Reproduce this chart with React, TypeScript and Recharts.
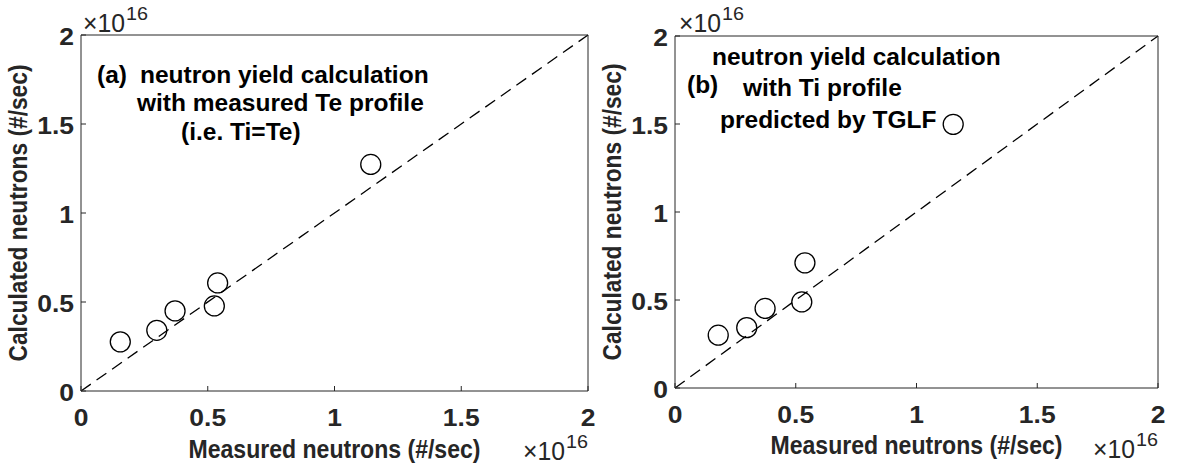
import React from "react";
import {
  ScatterChart,
  Scatter,
  XAxis,
  YAxis,
  ReferenceLine,
} from "recharts";

// values in units of 1e16 neutrons/sec
const measuredA = [0.155, 0.299, 0.371, 0.526, 0.539, 1.143];
const calculatedA = [0.276, 0.341, 0.45, 0.478, 0.607, 1.273];
const measuredB = [0.179, 0.297, 0.373, 0.525, 0.538, 1.152];
const calculatedB = [0.3, 0.343, 0.452, 0.489, 0.711, 1.498];
const tickValues = [0, 0.5, 1, 1.5, 2];
const axisDomain: [number, number] = [0, 2];
const xTitle = "Measured neutrons (#/sec)";
const yTitle = "Calculated neutrons (#/sec)";
const notesA = ["(a)", "neutron yield calculation", "with measured Te profile", "(i.e. Ti=Te)"];
const notesB = ["(b)", "neutron yield calculation", "with Ti profile", "predicted by TGLF"];

const FONT = '"Liberation Sans", Arial, Helvetica, sans-serif';
const AXIS = "#262626";
const TICK = 5;

const toPoints = (xs: number[], ys: number[]) => xs.map((x, i) => ({ x, y: ys[i] }));

// MATLAB's digits are a bit wider than Liberation's, so stretch them slightly
const TickLabel = ({ x, y, anchor, value }: { x: number; y: number; anchor: string; value: number }) => (
  <text
    transform={`translate(${x} ${y}) scale(1.15 1)`}
    textAnchor={anchor}
    fontFamily={FONT}
    fontWeight="bold"
    fontSize={23}
    fill={AXIS}
  >
    {String(value)}
  </text>
);

const BottomTick = (props: any) => {
  const { x, y, payload } = props;
  return (
    <g>
      <line x1={x} y1={y} x2={x} y2={y - TICK} stroke={AXIS} />
      <TickLabel x={x} y={y + 35} anchor="middle" value={payload.value} />
    </g>
  );
};

const LeftTick = (props: any) => {
  const { x, y, payload } = props;
  return (
    <g>
      <line x1={x} y1={y} x2={x + TICK} y2={y} stroke={AXIS} />
      <TickLabel x={x - 7} y={y + 10} anchor="end" value={payload.value} />
    </g>
  );
};

const TopTick = (props: any) => {
  const { x, y } = props;
  return <line x1={x} y1={y} x2={x} y2={y + TICK} stroke={AXIS} />;
};

const RightTick = (props: any) => {
  const { x, y } = props;
  return <line x1={x} y1={y} x2={x - TICK} y2={y} stroke={AXIS} />;
};

const Ring = (props: any) => (
  <circle cx={props.cx} cy={props.cy} r={10} fill="none" stroke="#000" strokeWidth={1.3} />
);

const xLabel = (baselineGap: number) => (props: any) => {
  const vb = props.viewBox;
  return (
    <text
      x={vb.x + vb.width / 2}
      y={vb.y + baselineGap}
      textAnchor="middle"
      fontFamily={FONT}
      fontWeight="bold"
      fontSize={25}
      textLength={292}
      lengthAdjust="spacingAndGlyphs"
      fill={AXIS}
    >
      {xTitle}
    </text>
  );
};

const yLabel = (props: any) => {
  const vb = props.viewBox;
  const cx = vb.x + vb.width - 63;
  const cy = vb.y + vb.height / 2;
  return (
    <text
      x={cx}
      y={cy}
      transform={`rotate(-90 ${cx} ${cy})`}
      textAnchor="middle"
      dominantBaseline="central"
      fontFamily={FONT}
      fontWeight="bold"
      fontSize={25}
      textLength={297}
      lengthAdjust="spacingAndGlyphs"
      fill={AXIS}
    >
      {yTitle}
    </text>
  );
};

interface PanelProps {
  xs: number[];
  ys: number[];
  left: number;
  width: number;
  margin: { top: number; right: number; bottom: number; left: number };
  titleGap: number;
}

function Panel({ xs, ys, left, width, margin, titleGap }: PanelProps) {
  // axes take 1px each; margins passed are the plot edges
  const m = {
    top: margin.top - 1,
    right: margin.right - 1,
    bottom: margin.bottom - 1,
    left: margin.left - 1,
  };
  return (
    <div style={{ position: "absolute", left, top: 0 }}>
      <ScatterChart width={width} height={465} margin={m}>
        <XAxis
          dataKey="x"
          type="number"
          domain={axisDomain}
          ticks={tickValues}
          height={1}
          tickSize={0}
          tickMargin={0}
          tickLine={false}
          tick={BottomTick}
          axisLine={{ stroke: AXIS }}
          label={{ content: xLabel(titleGap) }}
          interval={0}
        />
        <XAxis
          xAxisId="top"
          orientation="top"
          type="number"
          domain={axisDomain}
          ticks={tickValues}
          height={1}
          tickSize={0}
          tickMargin={0}
          tickLine={false}
          tick={TopTick}
          axisLine={{ stroke: AXIS }}
          interval={0}
        />
        <YAxis
          dataKey="y"
          type="number"
          domain={axisDomain}
          ticks={tickValues}
          width={1}
          tickSize={0}
          tickMargin={0}
          tickLine={false}
          tick={LeftTick}
          axisLine={{ stroke: AXIS }}
          label={{ content: yLabel }}
          interval={0}
        />
        <YAxis
          yAxisId="right"
          orientation="right"
          type="number"
          domain={axisDomain}
          ticks={tickValues}
          width={1}
          tickSize={0}
          tickMargin={0}
          tickLine={false}
          tick={RightTick}
          axisLine={{ stroke: AXIS }}
          interval={0}
        />
        <ReferenceLine
          segment={[
            { x: axisDomain[0], y: axisDomain[0] },
            { x: axisDomain[1], y: axisDomain[1] },
          ]}
          stroke="#000"
          strokeWidth={1.3}
          strokeDasharray="12 7"
        />
        <Scatter data={toPoints(xs, ys)} shape={Ring} isAnimationActive={false} />
      </ScatterChart>
    </div>
  );
}

const Exponent = ({ x, y }: { x: number; y: number }) => (
  <g fontFamily={FONT} fill={AXIS}>
    <text x={x} y={y} fontSize={26} textLength={42} lengthAdjust="spacingAndGlyphs">
      ×10
    </text>
    <text x={x + 43} y={y - 12} fontSize={19} textLength={22} lengthAdjust="spacingAndGlyphs">
      16
    </text>
  </g>
);

const noteStyle = { fontFamily: FONT, fontWeight: "bold" as const, fontSize: 24.5, fill: "#000" };

export default function App() {
  return (
    <div style={{ position: "absolute", left: 0, top: 0, width: 1177, height: 465, background: "#fff" }}>
      <Panel
        xs={measuredA}
        ys={calculatedA}
        left={0}
        width={600}
        margin={{ top: 35, right: 12, bottom: 74, left: 81 }}
        titleGap={67}
      />
      <Panel
        xs={measuredB}
        ys={calculatedB}
        left={590}
        width={587}
        margin={{ top: 36, right: 19, bottom: 77, left: 85 }}
        titleGap={66}
      />
      <svg width={1177} height={465} style={{ position: "absolute", left: 0, top: 0, pointerEvents: "none" }}>
        <Exponent x={83} y={32} />
        <Exponent x={523} y={460} />
        <Exponent x={679} y={32} />
        <Exponent x={1093} y={458} />
        <text x={97} y={83} {...noteStyle}>{notesA[0]}</text>
        <text x={140} y={83} {...noteStyle}>{notesA[1]}</text>
        <text x={137} y={111} {...noteStyle}>{notesA[2]}</text>
        <text x={181} y={140} {...noteStyle}>{notesA[3]}</text>
        <text x={687} y={93} {...noteStyle}>{notesB[0]}</text>
        <text x={712} y={65} {...noteStyle}>{notesB[1]}</text>
        <text x={743} y={96} {...noteStyle}>{notesB[2]}</text>
        <text x={720} y={128} {...noteStyle}>{notesB[3]}</text>
      </svg>
    </div>
  );
}
